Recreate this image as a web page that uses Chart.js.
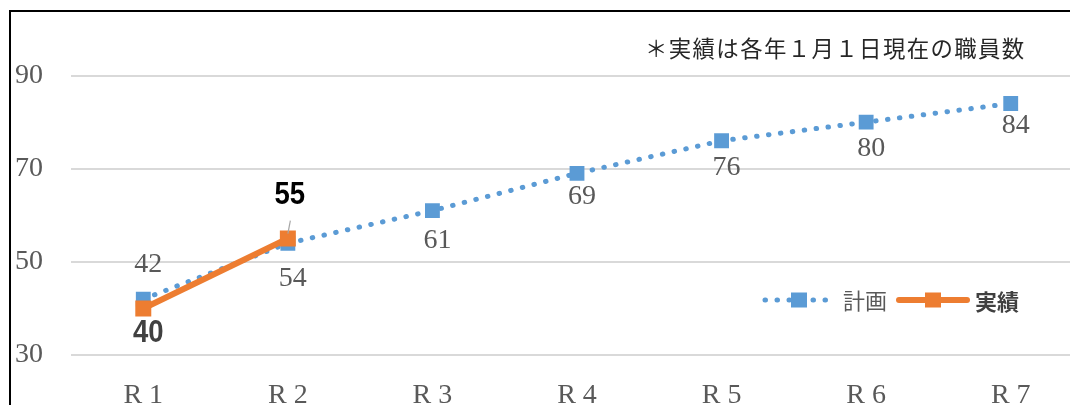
<!DOCTYPE html>
<html lang="ja">
<head>
<meta charset="utf-8">
<script src="https://cdn.jsdelivr.net/npm/chart.js@4.4.0/dist/chart.umd.min.js"></script>
<style>
  html, body { margin: 0; padding: 0; background: #fff; overflow: hidden; width: 1070px; height: 405px; }
  #frame { position: absolute; left: 9px; top: 10px; width: 1200px; height: 500px; border-top: 2px solid #000; border-left: 2px solid #000; }
  #wrap { position: absolute; left: 0; top: 0; width: 1100px; height: 420px; }
  #note { position: absolute; left: 645px; top: 32px; font: 22.4px/30px "Noto Sans CJK JP"; letter-spacing: 1.4px; color: #262626; white-space: nowrap; }
</style>
</head>
<body>
<div id="frame"></div>
<div id="wrap"><canvas id="c"></canvas></div>
<div id="note">＊実績は各年１月１日現在の職員数</div>
<script>
// data
const categories = ['R 1', 'R 2', 'R 3', 'R 4', 'R 5', 'R 6', 'R 7'];
const planValues = [42, 54, 61, 69, 76, 80, 84];
const actualValues = [40, 55, null, null, null, null, null];
const yTicks = [30, 50, 70, 90];
const seriesNames = ['計画', '実績'];

const BLUE = '#5B9BD5';
const ORANGE = '#ED7D31';
const SERIF = '"Liberation Serif", "Times New Roman", serif';
const SANS = '"Liberation Sans", Arial, sans-serif';
const CJK = '"Noto Sans CJK JP", sans-serif';

// label offsets from their point (px)
const planLabelDy = [-34, 35, 30, 23, 27, 26, 22];
const actualLabelDy = [25, -43];

const labelPlugin = {
  id: 'valueLabels',
  afterDatasetsDraw(chart) {
    const ctx = chart.ctx;
    ctx.save();
    ctx.textAlign = 'center';
    ctx.textBaseline = 'middle';

    // plan labels, gray serif
    const planMeta = chart.getDatasetMeta(1);
    ctx.font = '28px ' + SERIF;
    ctx.fillStyle = '#595959';
    planMeta.data.forEach((pt, i) => {
      ctx.fillText(String(planValues[i]), pt.x + 5, pt.y + planLabelDy[i]);
    });

    // actual labels, bold and squeezed
    const actMeta = chart.getDatasetMeta(0);
    ctx.font = 'bold 32px ' + SANS;
    actMeta.data.forEach((pt, i) => {
      if (actualValues[i] == null) return;
      ctx.fillStyle = i === 0 ? '#404040' : '#000';
      ctx.save();
      ctx.translate(pt.x + (i === 0 ? 5 : 2), pt.y + actualLabelDy[i]);
      ctx.scale(0.86, 1);
      ctx.fillText(String(actualValues[i]), 0, 0);
      ctx.restore();
      if (i === 1) {
        // small leader line
        ctx.strokeStyle = '#a6a6a6';
        ctx.lineWidth = 1.2;
        ctx.beginPath();
        ctx.moveTo(pt.x + 2.5, pt.y - 18);
        ctx.lineTo(pt.x, pt.y - 5);
        ctx.stroke();
      }
    });
    ctx.restore();
  },
  afterDraw(chart) {
    // legend inside the plot, bottom right
    const ctx = chart.ctx;
    const y = 300;
    ctx.save();
    ctx.strokeStyle = BLUE;
    ctx.lineWidth = 5;
    ctx.lineCap = 'round';
    ctx.setLineDash([0.5, 11.5]);
    ctx.beginPath();
    ctx.moveTo(765, y);
    ctx.lineTo(833, y);
    ctx.stroke();
    ctx.setLineDash([]);
    ctx.fillStyle = BLUE;
    ctx.fillRect(791, y - 7.5, 16, 15);

    ctx.font = '22px ' + CJK;
    ctx.fillStyle = '#595959';
    ctx.textBaseline = 'middle';
    ctx.textAlign = 'left';
    ctx.fillText(seriesNames[0], 843, y + 1);

    ctx.strokeStyle = ORANGE;
    ctx.lineWidth = 6;
    ctx.beginPath();
    ctx.moveTo(899, y);
    ctx.lineTo(967, y);
    ctx.stroke();
    ctx.fillStyle = ORANGE;
    ctx.fillRect(925, y - 7.5, 16, 15);

    ctx.font = 'bold 22px ' + CJK;
    ctx.fillStyle = '#404040';
    ctx.fillText(seriesNames[1], 975, y + 2);
    ctx.restore();
  }
};

new Chart(document.getElementById('c'), {
  type: 'line',
  data: {
    labels: categories,
    datasets: [
      {
        label: seriesNames[1],
        data: actualValues,
        borderColor: ORANGE,
        backgroundColor: ORANGE,
        borderWidth: 6,
        pointStyle: 'rect',
        pointRadius: 11.3,
        pointBorderWidth: 0,
        order: 1,
        spanGaps: false
      },
      {
        label: seriesNames[0],
        data: planValues,
        borderColor: BLUE,
        backgroundColor: BLUE,
        borderWidth: 5,
        borderDash: [0.5, 11.5],
        borderCapStyle: 'round',
        pointStyle: 'rect',
        pointRadius: 10.5,
        pointBorderWidth: 0,
        order: 2
      }
    ]
  },
  options: {
    responsive: true,
    maintainAspectRatio: false,
    animation: false,
    devicePixelRatio: 1,
    layout: { padding: { top: 29, right: 17, left: 15, bottom: 0 } },
    plugins: {
      legend: { display: false },
      tooltip: { enabled: false }
    },
    scales: {
      x: {
        offset: true,
        grid: { display: false },
        border: { display: false },
        ticks: {
          font: { family: SERIF, size: 28 },
          color: '#595959',
          padding: 16,
          maxRotation: 0
        },
        afterFit(scale) { scale.height = 65; }
      },
      y: {
        min: 30,
        max: 100,
        afterBuildTicks(scale) { scale.ticks = yTicks.map(v => ({ value: v })); },
        grid: { color: '#d9d9d9', lineWidth: 2, drawTicks: false },
        border: { display: false },
        ticks: {
          font: { family: SERIF, size: 28 },
          color: '#595959',
          padding: 0,
          crossAlign: 'far'
        },
        afterFit(scale) { scale.width = 56; }
      }
    }
  },
  plugins: [labelPlugin]
});
</script>
</body>
</html>
